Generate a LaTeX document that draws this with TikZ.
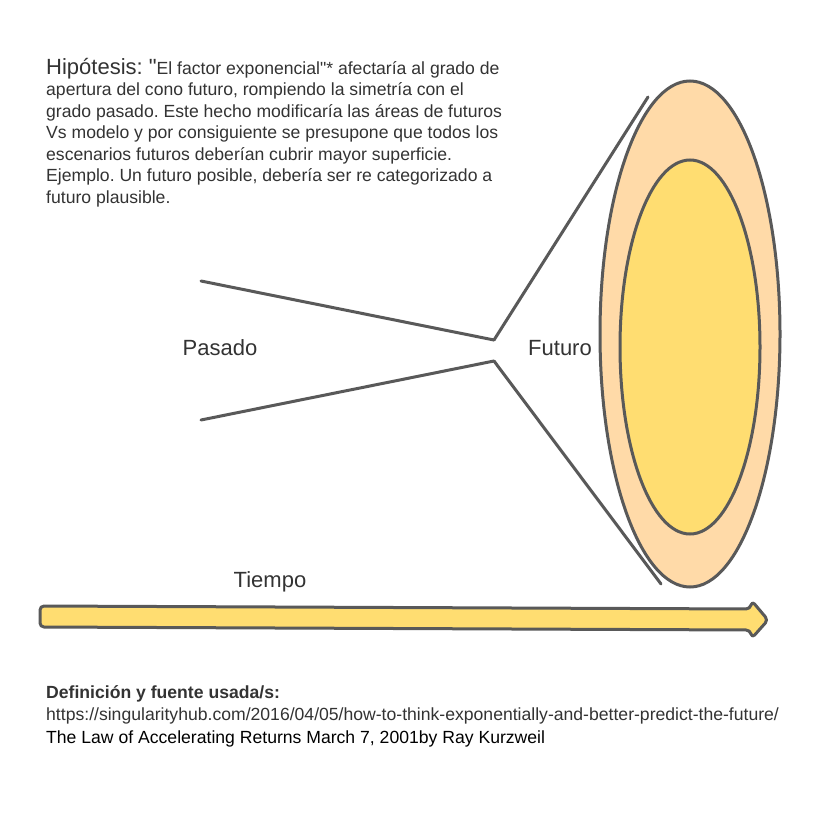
\documentclass[tikz,border=0pt]{standalone}
\usepackage{fontspec}
\setmainfont{Liberation Sans}[Ligatures=TeXOff]
\frenchspacing
\begin{document}
\definecolor{edge}{HTML}{595959}
\definecolor{peach}{HTML}{FFDAA8}
\definecolor{gold}{HTML}{FFDD71}
\definecolor{ink}{HTML}{333333}
\begin{tikzpicture}[x=1pt,y=-1pt,
  cone/.style={draw=edge,line width=3pt,line cap=round},
  lbl/.style={text=ink,font=\fontsize{22}{24}\selectfont,inner sep=0pt},
  body/.style={text=ink,font=\fontsize{17.6}{21.5}\selectfont,inner sep=0pt,align=left,anchor=base west}]
\useasboundingbox (0,0) rectangle (840,840);
\fill[white] (0,0) rectangle (840,840);
% hypothesis text (anchor = baseline of the last line)
\node[body] (hyp) at (46,203) {{\fontsize{22}{21.5}\selectfont Hipótesis: "}El factor exponencial"* afectaría al grado de\\
apertura del cono futuro, rompiendo la simetría con el\\
grado pasado. Este hecho modificaría las áreas de futuros\\
Vs modelo y por consiguiente se presupone que todos los\\
escenarios futuros deberían cubrir mayor superficie.\\
Ejemplo. Un futuro posible, debería ser re categorizado a\\
futuro plausible.};
% ellipses
\draw[draw=edge,line width=3pt,fill=peach] (690,334) ellipse [x radius=90,y radius=253];
\draw[draw=edge,line width=3pt,fill=gold] (690,347) ellipse [x radius=70,y radius=187];
% cone
\coordinate (p1) at (201,281);
\coordinate (p2) at (201,420);
\coordinate (c1) at (494,340);
\coordinate (c2) at (494,361);
\coordinate (f1) at (648,97);
\coordinate (f2) at (661,584);
\draw[cone] (p1) -- (c1);
\draw[cone] (p2) -- (c2);
\draw[cone] (c1) -- (f1);
\draw[cone] (c2) -- (f2);
\node[lbl] (pasado) at (220,348) {Pasado};
\node[lbl] (futuro) at (560,348) {Futuro};
\node[lbl] (tiempo) at (270,582) {Tiempo};
% time arrow
\draw[draw=edge,line width=3pt,fill=gold,rounded corners=4pt,line join=round]
  (40,606) -- (750,609) -- (752,601) -- (768,620) -- (752,638) -- (750,630) -- (40,627) -- cycle;
% sources
\node[body,font=\fontsize{17.6}{22.3}\selectfont] (src) at (46,743)
  {\textbf{Definición y fuente usada/s:}\\
  https://singularityhub.com/2016/04/05/how-to-think-exponentially-and-better-predict-the-future/\\
  \textcolor{black}{The Law of Accelerating Returns March 7, 2001by Ray Kurzweil}};
\end{tikzpicture}
\end{document}
